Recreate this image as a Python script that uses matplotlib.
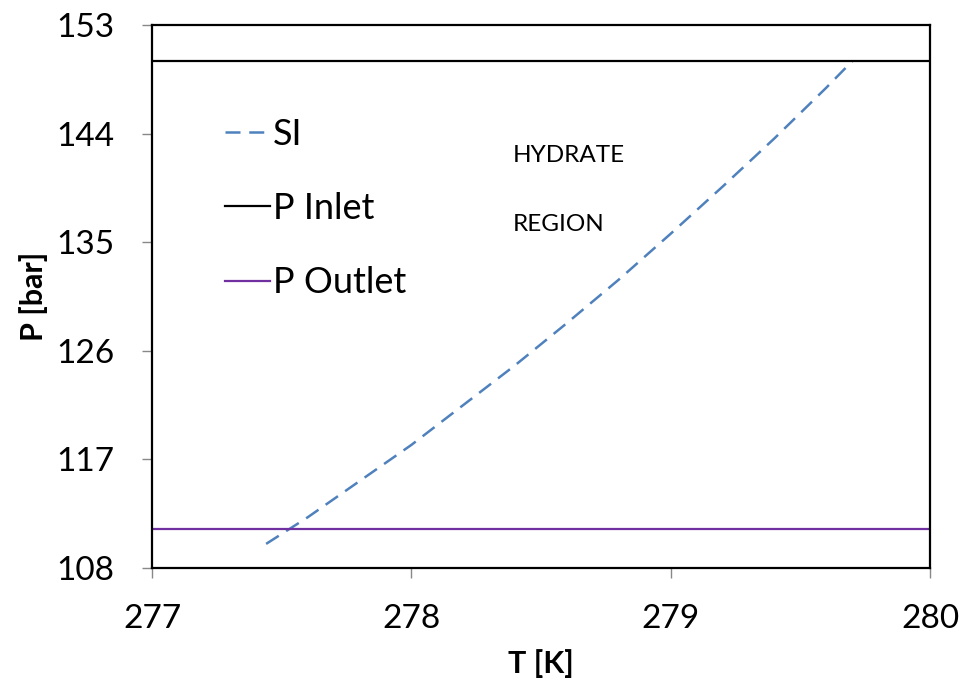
import matplotlib.pyplot as plt

# SI hydrate equilibrium curve
si_T = [277.44, 277.6, 277.8, 278.0, 278.2, 278.4, 278.6, 278.8, 279.0, 279.2, 279.4, 279.6, 279.70]
si_P = [110.0, 112.2, 115.2, 118.2, 121.5, 124.8, 128.3, 131.9, 135.7, 139.6, 143.6, 147.8, 150.0]

# pipeline pressures
inlet_T = [277, 280]
inlet_P = [150.0, 150.0]
outlet_T = [277, 280]
outlet_P = [111.2, 111.2]

x_ticks = [277, 278, 279, 280]
y_ticks = [108, 117, 126, 135, 144, 153]

plt.rcParams["font.family"] = ["Lato", "DejaVu Sans"]

fig = plt.figure(figsize=(9.61, 6.81), dpi=100)
ax = fig.add_axes([0.1582, 0.1659, 0.8095, 0.7974])

ax.plot(si_T, si_P, color="#4F81BD", linestyle=(0, (6, 3.5)), linewidth=1.8, label="SI")
ax.plot(inlet_T, inlet_P, color="black", linewidth=1.6, label="P Inlet")
ax.plot(outlet_T, outlet_P, color="#7030A0", linewidth=1.6, label="P Outlet")

ax.set_xlim(277, 280)
ax.set_ylim(108, 153)
ax.set_xticks(x_ticks)
ax.set_yticks(y_ticks)
ax.tick_params(direction="out", length=7, width=1, color="#888888", labelsize=24)
ax.tick_params(axis="y", pad=20)
ax.tick_params(axis="x", pad=19)
for s in ax.spines.values():
    s.set_linewidth(1.6)

ax.set_xlabel("T [K]", fontsize=22, fontweight="bold", labelpad=11)
ax.set_ylabel("P [bar]", fontsize=22, fontweight="bold", labelpad=6)

ax.text(278.39, 142.15, "HYDRATE", fontsize=17.5, va="center")
ax.text(278.39, 136.5, "REGION", fontsize=17.5, va="center")

ax.legend(loc="upper left", bbox_to_anchor=(0.094, 0.829), frameon=False,
          prop={"size": 26}, handlelength=1.25, borderpad=0,
          handletextpad=0.08, labelspacing=1.14, borderaxespad=0)

fig.savefig("out.png", dpi=100)
